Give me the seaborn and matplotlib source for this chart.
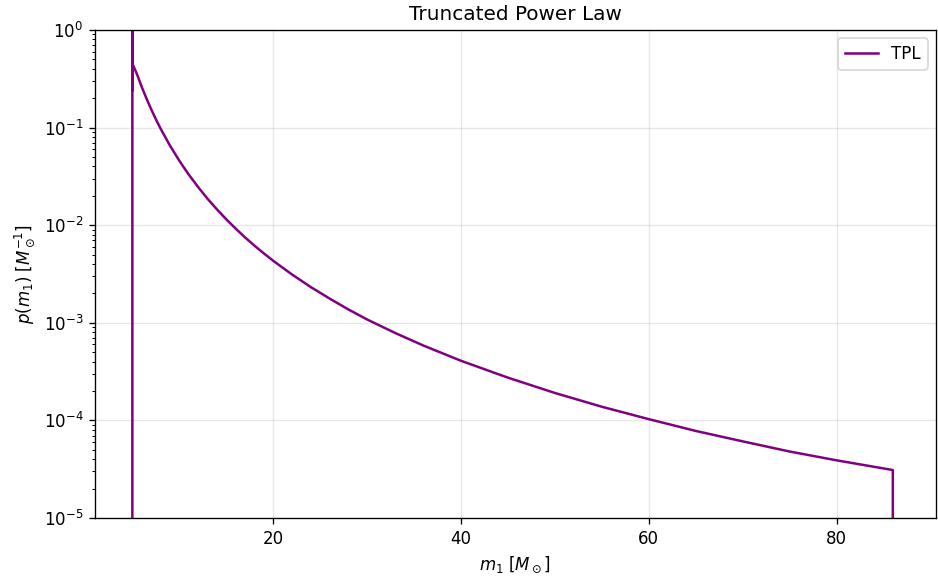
import numpy as np
import pandas as pd
import matplotlib
matplotlib.use("Agg")
import matplotlib.pyplot as plt
from matplotlib.ticker import MultipleLocator
import seaborn as sns

# Primary-mass grid [M_sun] and the truncated power-law density p(m1) [1/M_sun]
m1 = [4.98, 4.98, 4.98, 5.0, 5.5, 6.0, 6.5, 7.0, 7.5, 8.0, 9.0, 10.0, 11.0,
      12.0, 13.0, 14.0, 15.0, 16.0, 17.0, 18.0, 19.0, 20.0, 22.0, 24.0, 26.0,
      28.0, 30.0, 33.0, 36.0, 40.0, 45.0, 50.0, 55.0, 60.0, 65.0, 70.0,
      75.0, 80.0, 86.0, 86.0]
p_m1 = [0.0, 1.5, 0.24, 0.45, 0.347, 0.258, 0.197, 0.153, 0.121, 0.0971,
        0.0651, 0.0455, 0.0329, 0.0245, 0.0186, 0.0145, 0.01146, 0.0092,
        0.00748, 0.00616, 0.00513, 0.00431, 0.00312, 0.00232, 0.00177,
        0.00137, 0.00108, 0.000785, 0.000584, 0.000408, 0.000274, 0.000191,
        0.000138, 0.000103, 0.000078, 0.000061, 0.000048, 0.000039,
        0.000031, 0.0]

label = "TPL"
title = "Truncated Power Law"

df = pd.DataFrame({"m1": m1, "p": p_m1})

fig, ax = plt.subplots(figsize=(938 / 120, 576 / 120), dpi=120)
fig.subplots_adjust(left=95 / 938, right=936 / 938, top=1 - 30 / 576, bottom=1 - 518 / 576)

sns.lineplot(data=df, x="m1", y="p", estimator=None, sort=False,
             color="purple", linewidth=1.5, label=label, ax=ax)

ax.set_yscale("log")
ax.set_ylim(1e-5, 1)
ax.set_xlim(1.0, 90.6)
ax.xaxis.set_major_locator(MultipleLocator(20))
ax.grid(True, alpha=0.3)
ax.set_xlabel(r"$m_1$ $[M_\odot]$")
ax.set_ylabel(r"$p(m_1)$ $[M_\odot^{-1}]$")
ax.set_title(title)
ax.legend(loc="upper right")

fig.savefig("out.png", dpi=120)
